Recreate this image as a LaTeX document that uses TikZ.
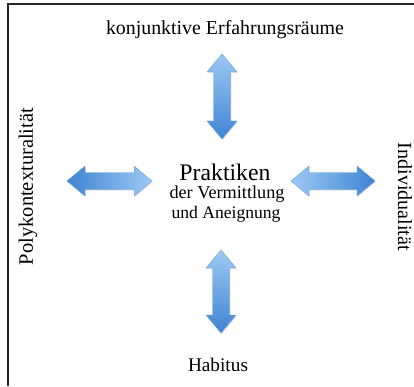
\documentclass[tikz,border=0pt]{standalone}
\usepackage{graphicx}
\usepackage{fontspec}
\setmainfont{Liberation Serif}
\usetikzlibrary{shadows}
\definecolor{arrlight}{HTML}{9DC9F4}
\definecolor{arrdark}{HTML}{3E84D2}
\definecolor{arredge}{HTML}{6AA2DE}
\tikzset{
  arrbody/.style={draw=arredge, line width=0.4pt,
    drop shadow={shadow xshift=0.8pt, shadow yshift=-1.2pt, opacity=0.22}},
  lbl/.style={inner sep=0pt, anchor=center}
}
% horizontal double arrow: #1 = style, (#2,#3) centre, #4 length
\newcommand\hdarrow[4]{%
  \path[arrbody,#1] (#2-#4/2,#3) -- (#2-#4/2+18,#3+15) -- (#2-#4/2+18,#3+8.5)
    -- (#2+#4/2-18,#3+8.5) -- (#2+#4/2-18,#3+15) -- (#2+#4/2,#3)
    -- (#2+#4/2-18,#3-15) -- (#2+#4/2-18,#3-8.5) -- (#2-#4/2+18,#3-8.5)
    -- (#2-#4/2+18,#3-15) -- cycle;}
\newcommand\vdarrow[4]{%
  \path[arrbody,#1] (#2,#3-#4/2) -- (#2+15,#3-#4/2+18) -- (#2+8.5,#3-#4/2+18)
    -- (#2+8.5,#3+#4/2-18) -- (#2+15,#3+#4/2-18) -- (#2,#3+#4/2)
    -- (#2-15,#3+#4/2-18) -- (#2-8.5,#3+#4/2-18) -- (#2-8.5,#3-#4/2+18)
    -- (#2-15,#3-#4/2+18) -- cycle;}
\begin{document}
\begin{tikzpicture}[x=1pt,y=1pt]
\useasboundingbox (0,0) rectangle (414,386);
\fill[white] (0,0) rectangle (414,386);
% frame (top and left edges)
\coordinate (ftl) at (8,382);
\coordinate (ftr) at (414,382);
\coordinate (fbl) at (8,0);
\draw[line width=1.1pt, black!85] (ftr) -- (ftl) -- (fbl);
% arrows
\vdarrow{top color=arrlight, bottom color=arrdark}{222}{289.5}{85}
\vdarrow{top color=arrlight, bottom color=arrdark}{221}{94.5}{83}
\hdarrow{left color=arrdark, right color=arrlight}{109.5}{205}{85}
\hdarrow{left color=arrlight, right color=arrdark}{333}{205}{84}
% texts
\node[lbl] (top) at (225,356) {\resizebox{238pt}{!}{konjunktive Erfahrungsräume}};
\node[lbl] (prak) at (225,214) {\resizebox{91pt}{!}{Praktiken}};
\node[lbl] (verm) at (227,192) {\resizebox{115pt}{!}{der Vermittlung}};
\node[lbl] (aneig) at (226,172) {\resizebox{109pt}{!}{und Aneignung}};
\node[lbl] (hab) at (218,21) {\resizebox{60pt}{!}{Habitus}};
\node[lbl, rotate=90] (poly) at (28,199.5) {\resizebox{157pt}{!}{Polykontexturalität}};
\node[lbl, rotate=-90] (indiv) at (405,189) {\resizebox{108pt}{!}{Individualität}};
\end{tikzpicture}
\end{document}
